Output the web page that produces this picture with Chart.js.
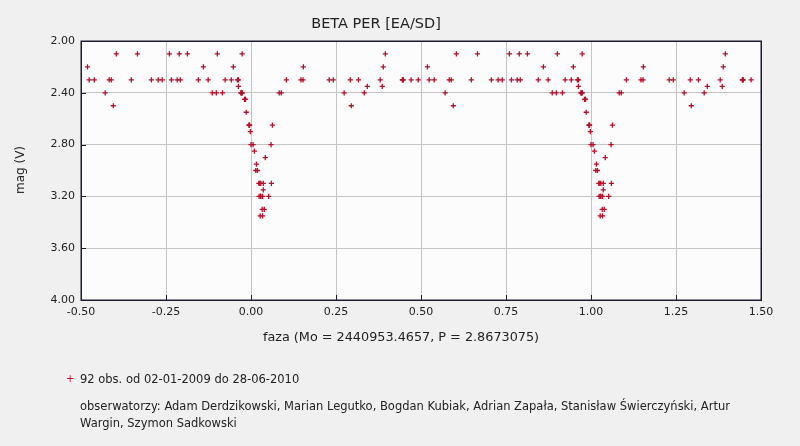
<!DOCTYPE html>
<html><head><meta charset="utf-8">
<script src="https://cdn.jsdelivr.net/npm/chart.js@4/dist/chart.umd.min.js"></script>
<style>
html,body{margin:0;padding:0;background:#f0f0f0;}
#wrap{position:relative;width:800px;height:446px;overflow:hidden;font-family:"DejaVu Sans",sans-serif;color:#222;}
canvas{position:absolute;left:0;top:0;}
.t{position:absolute;white-space:nowrap;}
</style></head><body>
<div id="wrap">
<canvas id="c" width="800" height="446" style="width:800px;height:446px"></canvas>
<div class="t" style="left:376px;top:13px;transform:translateX(-50%);font-size:14.5px;line-height:20px;">BETA PER [EA/SD]</div>
<div class="t" style="left:401px;top:329px;transform:translateX(-50%);font-size:12.8px;line-height:16px;">faza (Mo = 2440953.4657, P = 2.8673075)</div>
<div class="t" style="left:20px;top:170px;transform:translate(-50%,-50%) rotate(-90deg);font-size:12px;line-height:16px;">mag (V)</div>
<div class="t" style="left:66px;top:372px;font-size:10px;line-height:14px;color:#c0102a;">+</div>
<div class="t" style="left:80px;top:371px;font-size:11.5px;line-height:16px;">92 obs. od 02-01-2009 do 28-06-2010</div>
<div class="t" style="left:80px;top:398px;font-size:11.5px;line-height:16px;">obserwatorzy: Adam Derdzikowski, Marian Legutko, Bogdan Kubiak, Adrian Zapała, Stanisław Świerczyński, Artur</div>
<div class="t" style="left:80px;top:415px;font-size:11.5px;line-height:16px;">Wargin, Szymon Sadkowski</div>
</div>
<script>
const phases = [-0.481,-0.476,-0.461,-0.429,-0.417,-0.411,-0.405,-0.396,-0.352,-0.334,
 -0.293,-0.273,-0.261,-0.240,-0.234,-0.217,-0.208,-0.211,-0.187,-0.155,
 -0.140,-0.126,-0.114,-0.102,-0.099,-0.084,-0.076,-0.058,-0.052,-0.040,
 -0.037,-0.037,-0.030,-0.026,-0.028,-0.026,-0.019,-0.016,-0.014,-0.006,
 -0.004,-0.002,0.000,0.006,0.010,0.016,0.014,0.019,0.023,0.029,
 0.036,0.024,0.029,0.034,0.036,0.033,0.039,0.027,0.034,0.042,
 0.052,0.060,0.059,0.063,0.083,0.089,0.104,0.147,0.153,0.154,
 0.230,0.242,0.274,0.292,0.295,0.316,0.333,0.342,0.380,0.386,
 0.389,0.395,0.445,0.448,0.471,0.492,
 -0.027,-0.005,0.028,0.026,-0.017,0.446];
const mags = [2.2,2.3,2.3,2.4,2.3,2.3,2.5,2.1,2.3,2.1,
 2.3,2.3,2.3,2.1,2.3,2.3,2.3,2.1,2.1,2.3,
 2.2,2.3,2.4,2.4,2.1,2.4,2.3,2.3,2.2,2.3,
 2.3,2.35,2.4,2.4,2.4,2.1,2.45,2.45,2.55,2.65,
 2.65,2.7,2.8,2.8,2.85,2.95,3.0,3.0,3.1,3.1,
 3.1,3.2,3.2,3.2,3.15,3.3,3.3,3.35,3.35,2.9,
 3.2,3.1,2.8,2.65,2.4,2.4,2.3,2.3,2.3,2.2,
 2.3,2.3,2.4,2.3,2.5,2.3,2.4,2.35,2.3,2.35,
 2.2,2.1,2.3,2.3,2.3,2.3,
 2.4,2.65,3.2,3.1,2.45,2.3];
const xTicks = {min:-0.5, max:1.5, step:0.25};
const yTicks = {min:2.0, max:4.0, step:0.4};
const repeatUpTo = 1.48; // second cycle drawn only up to this phase (as in the source)

const FONT = '"DejaVu Sans", sans-serif';
const pts = [];
phases.forEach((p,i)=>pts.push({x:p, y:mags[i]}));
phases.forEach((p,i)=>{ if (p+1 <= repeatUpTo) pts.push({x:p+1, y:mags[i]}); });

const framePlugin = {
  id:'frame',
  beforeDraw(chart){
    const {ctx, chartArea:a} = chart;
    ctx.save(); ctx.fillStyle='#fcfcfd';
    ctx.fillRect(a.left,a.top,a.right-a.left,a.bottom-a.top); ctx.restore();
  },
  afterDraw(chart){
    const {ctx, chartArea:a, scales} = chart;
    ctx.save();
    ctx.strokeStyle='#1c1c30'; ctx.lineWidth=1;
    ctx.beginPath();
    scales.x.ticks.forEach(t=>{const px=Math.round(scales.x.getPixelForValue(t.value))+0.5; ctx.moveTo(px,a.bottom); ctx.lineTo(px,a.bottom-5);});
    scales.y.ticks.forEach(t=>{const py=Math.round(scales.y.getPixelForValue(t.value))+0.5; ctx.moveTo(a.left,py); ctx.lineTo(a.left+5,py);});
    ctx.stroke();
    ctx.lineWidth=1.5;
    ctx.strokeRect(Math.round(a.left)+0.25, Math.round(a.top)+0.25, Math.round(a.right-a.left), Math.round(a.bottom-a.top));
    ctx.restore();
  }
};

new Chart(document.getElementById('c'), {
  type:'scatter',
  data:{datasets:[{data:pts, pointStyle:'cross', pointRadius:2.6, pointHoverRadius:2.6,
    borderColor:'rgb(185,14,40)', backgroundColor:'rgb(185,14,40)', pointBorderWidth:1.3}]},
  options:{
    responsive:false, animation:false, devicePixelRatio:1,
    layout:{padding:{left:0,top:41,right:39,bottom:0}},
    plugins:{legend:{display:false}, tooltip:{enabled:false}, title:{display:false}},
    scales:{
      x:{type:'linear', min:xTicks.min, max:xTicks.max,
        ticks:{stepSize:xTicks.step, callback:v=>Number(v).toFixed(2), font:{family:FONT,size:11}, color:'#222', padding:6, maxRotation:0, autoSkip:false},
        grid:{color:'#c4c4c4', drawTicks:false}, border:{display:false},
        afterFit(s){s.height=146;}},
      y:{type:'linear', reverse:true, min:yTicks.min, max:yTicks.max,
        ticks:{stepSize:yTicks.step, callback:v=>Number(v).toFixed(2), font:{family:FONT,size:11}, color:'#222', padding:6, autoSkip:false},
        grid:{color:'#c4c4c4', drawTicks:false}, border:{display:false},
        afterFit(s){s.width=81;}}
    }
  },
  plugins:[framePlugin]
});
</script>
</body></html>
